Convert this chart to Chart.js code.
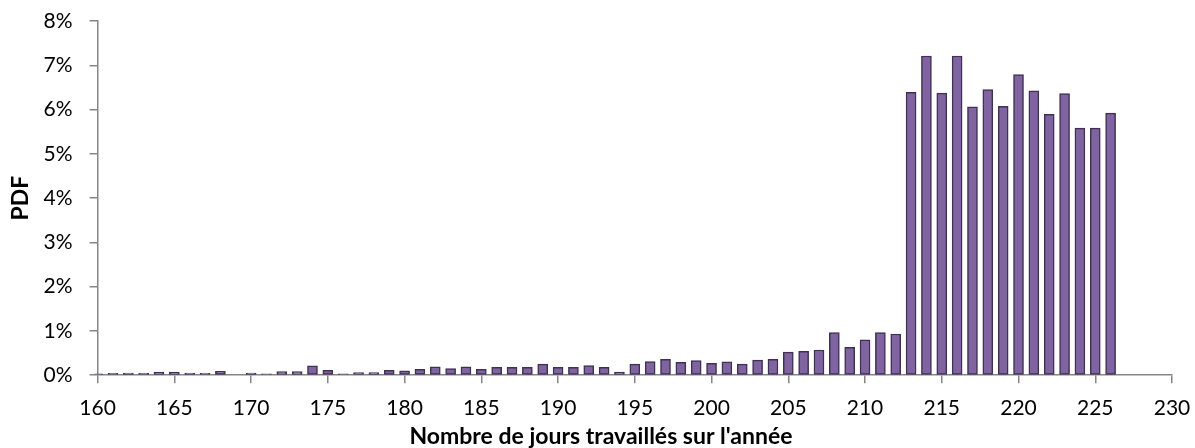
<!DOCTYPE html>
<html>
<head>
<meta charset="utf-8">
<script src="https://cdn.jsdelivr.net/npm/chart.js@4"></script>
<style>
  html, body { margin: 0; padding: 0; background: #fff; }
  #wrap { width: 1195px; height: 448px; position: relative; }
</style>
</head>
<body>
<div id="wrap"><canvas id="pdfChart"></canvas></div>
<script>
// jours travaillés (abscisse) et probabilité en %
const days = [
  160, 161, 162, 163, 164, 165, 166, 167, 168, 169,
  170, 171, 172, 173, 174, 175, 176, 177, 178, 179,
  180, 181, 182, 183, 184, 185, 186, 187, 188, 189,
  190, 191, 192, 193, 194, 195, 196, 197, 198, 199,
  200, 201, 202, 203, 204, 205, 206, 207, 208, 209,
  210, 211, 212, 213, 214, 215, 216, 217, 218, 219,
  220, 221, 222, 223, 224, 225, 226
];
const pdfValues = [
  0.03, 0.04, 0.05, 0.04, 0.07, 0.07, 0.05, 0.04, 0.09, 0.00,
  0.05, 0.03, 0.08, 0.08, 0.21, 0.11, 0.03, 0.06, 0.06, 0.11,
  0.10, 0.13, 0.19, 0.15, 0.19, 0.13, 0.18, 0.18, 0.18, 0.25,
  0.18, 0.18, 0.22, 0.18, 0.07, 0.25, 0.31, 0.36, 0.29, 0.33,
  0.27, 0.30, 0.25, 0.34, 0.36, 0.52, 0.54, 0.57, 0.96, 0.63,
  0.80, 0.96, 0.93, 6.39, 7.21, 6.37, 7.21, 6.06, 6.45, 6.07,
  6.79, 6.42, 5.89, 6.36, 5.58, 5.58, 5.92
];
const xTitle = "Nombre de jours travaillés sur l'année";
const yTitle = 'PDF';

const axisGrey = '#868686';
const font = { family: 'Lato', size: 21 };
const titleFont = { family: 'Lato', size: 23, weight: 'bold' };

new Chart(document.getElementById('pdfChart'), {
  type: 'bar',
  data: {
    datasets: [{
      data: days.map((d, i) => ({ x: d, y: pdfValues[i] })),
      backgroundColor: '#8064a2',
      borderColor: '#3f3151',
      borderWidth: 1.5,
      borderSkipped: false,
      barThickness: 10,
      clip: { left: 3, right: 3, top: 3, bottom: 3 }
    }]
  },
  options: {
    responsive: true,
    maintainAspectRatio: false,
    animation: false,
    layout: { padding: { top: 0, right: 0, left: 7, bottom: 0 } },
    plugins: {
      legend: { display: false },
      tooltip: { enabled: false },
      // titre de l'axe X centré sur toute la largeur, comme dans Excel
      title: { display: true, position: 'bottom', text: xTitle, color: '#000', font: titleFont, padding: { top: 2, bottom: -2 } }
    },
    scales: {
      x: {
        type: 'linear',
        offset: false,
        min: 160,
        max: 230,
        grid: { drawOnChartArea: false, offset: false, color: axisGrey, tickLength: 8, lineWidth: 1.5 },
        border: { color: axisGrey, width: 1.5 },
        ticks: { stepSize: 5, color: '#000', font: font, padding: 12, maxRotation: 0 },
        // on resserre les marges automatiques pour caler la zone de tracé
        afterFit: s => { s.paddingLeft = 0; s.paddingRight = 23; s.height -= 12; }
      },
      y: {
        min: 0,
        max: 8,
        grid: { drawOnChartArea: false, color: axisGrey, tickLength: 8, lineWidth: 1.5 },
        border: { color: axisGrey, width: 1.5 },
        ticks: { stepSize: 1, color: '#000', font: font, padding: 17, callback: v => v + '%' },
        title: { display: true, text: yTitle, color: '#000', font: titleFont, padding: { top: 0, bottom: -8 } },
        afterFit: s => { s.paddingTop = 21; s.paddingBottom = 0; }
      }
    }
  }
});
</script>
</body>
</html>
